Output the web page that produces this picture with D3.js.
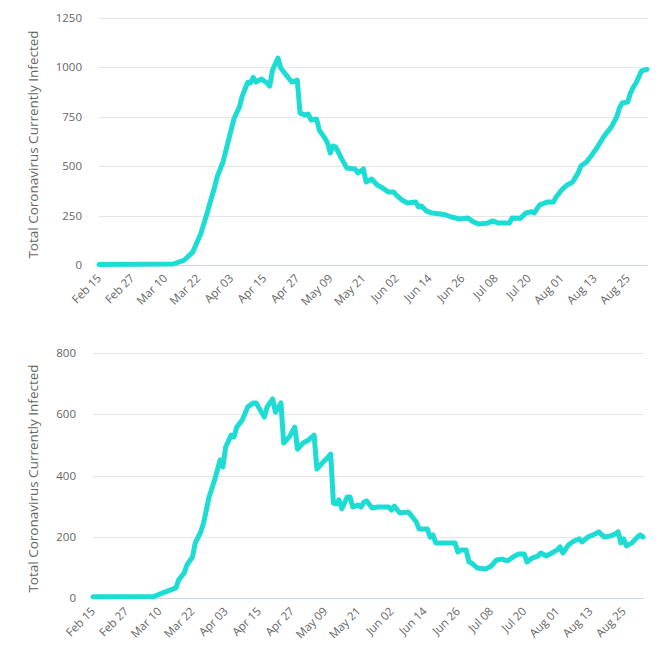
<!DOCTYPE html>
<html><head><meta charset="utf-8">
<script src="https://cdn.jsdelivr.net/npm/d3@7"></script>
<style>
body{margin:0;background:#fff}
svg{display:block}
text{font-family:"Open Sans",sans-serif}
</style>
</head><body>
<svg id="c" width="670" height="670"></svg>
<script>
const parse = d3.timeParse("%Y-%m-%d");
const xDomain = ["2020-02-15", "2020-09-01"];
const xTickDates = ["2020-02-15","2020-02-27","2020-03-10","2020-03-22","2020-04-03","2020-04-15","2020-04-27","2020-05-09","2020-05-21","2020-06-02","2020-06-14","2020-06-26","2020-07-08","2020-07-20","2020-08-01","2020-08-13","2020-08-25"];
const yTitle = "Total Coronavirus Currently Infected";

const topDates = ["2020-02-15","2020-03-13","2020-03-17","2020-03-20","2020-03-23","2020-03-25","2020-03-26","2020-03-28","2020-03-29","2020-03-31","2020-04-02","2020-04-04","2020-04-06","2020-04-07","2020-04-09","2020-04-10","2020-04-11","2020-04-12","2020-04-14","2020-04-16","2020-04-17","2020-04-18","2020-04-20","2020-04-21","2020-04-23","2020-04-25","2020-04-27","2020-04-28","2020-04-30","2020-05-01","2020-05-02","2020-05-04","2020-05-05","2020-05-07","2020-05-08","2020-05-09","2020-05-10","2020-05-11","2020-05-13","2020-05-15","2020-05-18","2020-05-19","2020-05-21","2020-05-22","2020-05-24","2020-05-26","2020-05-28","2020-05-30","2020-06-01","2020-06-02","2020-06-04","2020-06-06","2020-06-09","2020-06-10","2020-06-11","2020-06-13","2020-06-15","2020-06-18","2020-06-20","2020-06-22","2020-06-25","2020-06-28","2020-06-30","2020-07-02","2020-07-05","2020-07-07","2020-07-09","2020-07-13","2020-07-14","2020-07-17","2020-07-19","2020-07-21","2020-07-22","2020-07-24","2020-07-27","2020-07-29","2020-07-30","2020-08-01","2020-08-03","2020-08-05","2020-08-07","2020-08-08","2020-08-10","2020-08-12","2020-08-14","2020-08-16","2020-08-17","2020-08-19","2020-08-21","2020-08-22","2020-08-23","2020-08-25","2020-08-26","2020-08-27","2020-08-28","2020-08-29","2020-08-30","2020-09-01"];
const topValues = [3,5,25,65,160,250,300,395,450,520,630,740,800,855,925,921,950,926,941,921,905,987,1047,997,961,926,936,769,759,764,734,739,683,642,617,567,602,597,541,491,486,466,486,420,435,405,390,370,370,354,329,314,319,294,299,273,263,258,253,243,233,238,218,207,212,223,212,212,238,236,263,270,263,304,319,319,344,380,405,420,466,501,521,557,597,643,663,698,749,795,820,825,870,900,921,951,982,990];
const topYTicks = [0,250,500,750,1000,1250];

const botDates = ["2020-02-15","2020-03-08","2020-03-11","2020-03-16","2020-03-17","2020-03-19","2020-03-20","2020-03-22","2020-03-23","2020-03-25","2020-03-26","2020-03-27","2020-03-28","2020-03-30","2020-03-31","2020-04-01","2020-04-02","2020-04-03","2020-04-05","2020-04-06","2020-04-07","2020-04-09","2020-04-11","2020-04-13","2020-04-14","2020-04-17","2020-04-18","2020-04-20","2020-04-21","2020-04-23","2020-04-24","2020-04-26","2020-04-28","2020-04-29","2020-05-01","2020-05-03","2020-05-05","2020-05-06","2020-05-08","2020-05-10","2020-05-11","2020-05-12","2020-05-13","2020-05-14","2020-05-15","2020-05-17","2020-05-18","2020-05-19","2020-05-21","2020-05-22","2020-05-23","2020-05-24","2020-05-26","2020-05-28","2020-06-01","2020-06-02","2020-06-03","2020-06-05","2020-06-08","2020-06-09","2020-06-11","2020-06-12","2020-06-15","2020-06-16","2020-06-17","2020-06-18","2020-06-25","2020-06-26","2020-06-27","2020-06-29","2020-06-30","2020-07-01","2020-07-03","2020-07-06","2020-07-08","2020-07-10","2020-07-12","2020-07-14","2020-07-16","2020-07-18","2020-07-20","2020-07-21","2020-07-23","2020-07-25","2020-07-26","2020-07-28","2020-07-30","2020-08-01","2020-08-02","2020-08-03","2020-08-05","2020-08-07","2020-08-09","2020-08-10","2020-08-12","2020-08-14","2020-08-16","2020-08-18","2020-08-20","2020-08-22","2020-08-23","2020-08-24","2020-08-25","2020-08-26","2020-08-28","2020-08-30","2020-08-31","2020-09-01"];
const botValues = [4,5,16,33,59,82,108,134,180,216,245,287,330,385,418,451,428,493,532,526,558,581,624,637,637,591,624,650,607,637,506,526,558,486,506,516,532,421,441,460,470,310,307,320,291,330,330,297,304,297,313,317,294,297,297,287,300,278,281,271,248,225,225,199,206,180,180,150,157,157,118,114,98,95,104,124,127,121,134,144,144,118,131,137,147,137,147,157,167,147,173,186,193,183,199,206,216,199,202,209,216,180,193,170,180,199,206,199];
const botYTicks = [0,200,400,600,800];

const svg = d3.select("#c");

function drawChart(dates, values, yTicks, box) {
  const g = svg.append("g");
  const x = d3.scaleTime().domain(xDomain.map(parse)).range([box.left, box.right]);
  const y = d3.scaleLinear().domain([0, d3.max(yTicks)]).range([box.bottom, box.top]);

  g.selectAll("line.grid").data(yTicks.filter(t => t > 0)).join("line")
    .attr("x1", box.left).attr("x2", box.right + 1)
    .attr("y1", d => Math.round(y(d)) + 0.5).attr("y2", d => Math.round(y(d)) + 0.5)
    .attr("stroke", "#e6e6e6").attr("stroke-width", 1);
  g.append("line")
    .attr("x1", box.left).attr("x2", box.right + 1)
    .attr("y1", Math.round(y(0)) + 0.5).attr("y2", Math.round(y(0)) + 0.5)
    .attr("stroke", "#ccd6eb").attr("stroke-width", 1);

  g.selectAll("text.yl").data(yTicks).join("text")
    .attr("x", box.left - 17).attr("y", d => y(d)).attr("dy", "0.35em")
    .attr("text-anchor", "end").attr("fill", "#666").attr("font-size", "11.5px")
    .text(d => d);

  g.selectAll("text.xl").data(xTickDates.map(parse)).join("text")
    .attr("transform", d => `translate(${x(d) + 3},${box.bottom + 14}) rotate(-45)`)
    .attr("text-anchor", "end").attr("fill", "#666").attr("font-size", "11.5px")
    .text(d3.timeFormat("%b %d"));

  g.append("text")
    .attr("transform", `translate(${box.titleX},${(box.top + box.bottom) / 2 + 3}) rotate(-90)`)
    .attr("text-anchor", "middle").attr("dy", "0.35em")
    .attr("fill", "#666").attr("font-size", "13.5px")
    .text(yTitle);

  const data = dates.map((d, i) => ({ d: parse(d), v: values[i] }));
  g.append("path").datum(data)
    .attr("fill", "none").attr("stroke", "#1cdcd4").attr("stroke-width", 5)
    .attr("stroke-linejoin", "round").attr("stroke-linecap", "round")
    .attr("d", d3.line().x(p => x(p.d)).y(p => y(p.v)));
}

drawChart(topDates, topValues, topYTicks, { left: 99, right: 647, top: 18, bottom: 265, titleX: 33 });
drawChart(botDates, botValues, botYTicks, { left: 93, right: 643, top: 353, bottom: 598, titleX: 33 });
</script>
</body></html>
